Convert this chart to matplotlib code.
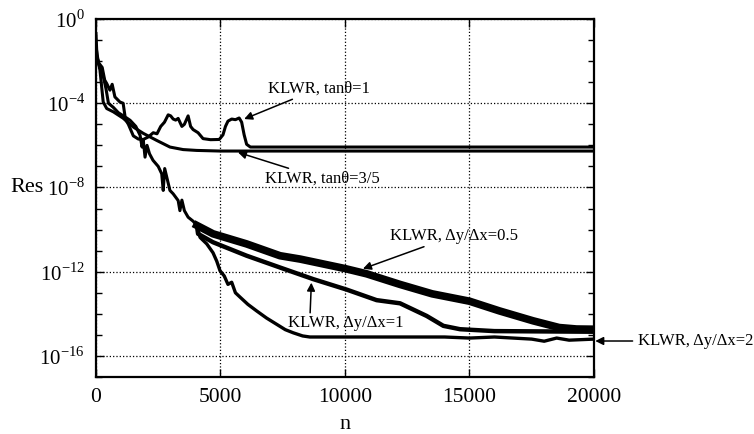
import matplotlib.pyplot as plt
import numpy as np
from matplotlib.ticker import FixedLocator, FuncFormatter, NullFormatter

plt.rcParams['font.family'] = ['Liberation Serif', 'DejaVu Serif']
plt.rcParams['mathtext.fontset'] = 'custom'
plt.rcParams['mathtext.rm'] = 'Liberation Serif'

# curves: n and log10(Res)
n_t1 = [0, 100, 250, 400, 500, 700, 900, 1100, 1300, 1500, 1700, 1900, 2100, 2300, 2450,
        2600, 2750, 2900, 3000, 3100, 3200, 3300, 3450, 3550, 3700, 3800, 3900, 4100, 4300,
        4600, 4950, 5100, 5200, 5300, 5450, 5600, 5750, 5850, 5950, 6050, 6200, 20000]
lg_t1 = [-1.3, -2.1, -2.5, -3.3, -4.0, -4.2, -4.45, -4.6, -5.0, -5.55, -5.7, -5.72, -5.6, -5.4, -5.45,
         -5.1, -4.9, -4.55, -4.6, -4.75, -4.8, -4.72, -5.1, -5.0, -4.6, -5.1, -5.25, -5.4, -5.68,
         -5.73, -5.72, -5.5, -5.1, -4.85, -4.75, -4.78, -4.7, -4.9, -5.5, -5.95, -6.08, -6.08]

n_t35 = [0, 160, 290, 430, 700, 1090, 1500, 1900, 2430, 2970, 3500, 4040, 5000, 20000]
lg_t35 = [-1.6, -2.43, -3.94, -4.25, -4.41, -4.71, -5.13, -5.43, -5.76, -6.08, -6.2, -6.24, -6.27, -6.27]

# early part shared by the three dy/dx runs
n_d0 = [0, 40, 120, 250, 350, 430, 560, 650, 760, 960, 1090, 1170, 1370, 1600, 1770, 1850,
        1900, 1970, 2050, 2150, 2290, 2500, 2640, 2700, 2760, 2970, 3100, 3300, 3370, 3450,
        3550, 3700, 3900, 4050]
lg_d0 = [-0.7, -1.8, -2.1, -2.3, -2.9, -3.06, -3.38, -3.1, -3.7, -3.94, -4.0, -4.65, -4.81, -5.1, -5.52, -6.08,
         -5.76, -6.56, -6.0, -6.4, -6.71, -7.0, -7.35, -8.14, -7.1, -8.14, -8.3, -8.62, -9.1, -8.6,
         -9.1, -9.41, -9.6, -9.8]

n_d2 = [4050, 4180, 4450, 4700, 4850, 4980, 5150, 5300, 5450, 5600, 5780, 6100, 6450, 6850, 7260,
        7600, 7920, 8300, 8590, 10000, 12000, 14000, 15000, 16000, 17500, 18000, 18500, 19000, 20000]
lg_d2 = [-9.8, -10.37, -10.68, -11.1, -11.5, -11.95, -12.2, -12.6, -12.5, -13.0, -13.2, -13.55, -13.86, -14.2, -14.5,
         -14.75, -14.9, -15.05, -15.1, -15.1, -15.1, -15.1, -15.15, -15.1, -15.2, -15.3, -15.15, -15.25, -15.2]

n_d05 = [4050, 4700, 6050, 7390, 8200, 10000, 10870, 12200, 13500, 15000, 16200, 17550, 18600, 19300, 20000]
lg_d05 = [-9.8, -10.2, -10.68, -11.24, -11.4, -11.85, -12.1, -12.6, -13.05, -13.4, -13.86, -14.33, -14.65, -14.72, -14.73]

n_d1 = [4050, 4100, 4700, 6050, 7390, 8720, 10070, 11270, 12210, 13280, 13950, 14620, 16000, 20000]
lg_d1 = [-9.8, -10.2, -10.6, -11.24, -11.8, -12.35, -12.85, -13.35, -13.5, -14.1, -14.57, -14.73, -14.82, -14.85]

fig = plt.figure(figsize=(7.54, 4.34), dpi=100)
ax = fig.add_axes([0.1273, 0.1313, 0.6605, 0.8249])

k = dict(color='black', solid_joinstyle='round')
ax.semilogy(n_t35, 10.0 ** np.array(lg_t35), lw=2.2, **k)
ax.semilogy(n_t1, 10.0 ** np.array(lg_t1), lw=2.2, **k)
ax.semilogy(n_d0, 10.0 ** np.array(lg_d0), lw=2.2, **k)
ax.semilogy(n_d2, 10.0 ** np.array(lg_d2), lw=2.4, **k)
ax.semilogy(n_d1, 10.0 ** np.array(lg_d1), lw=3.2, **k)
ax.semilogy(n_d05, 10.0 ** np.array(lg_d05), lw=5.5, **k)

ax.set_xlim(0, 20000)
ax.set_ylim(1e-17, 1e0)
ax.xaxis.set_major_locator(FixedLocator([0, 5000, 10000, 15000, 20000]))
ax.yaxis.set_major_locator(FixedLocator([1e0, 1e-4, 1e-8, 1e-12, 1e-16]))
ax.yaxis.set_minor_locator(FixedLocator([10.0 ** -e for e in range(0, 18)]))
ax.yaxis.set_major_formatter(FuncFormatter(lambda v, p: r'$10^{%d}$' % round(np.log10(v))))
ax.yaxis.set_minor_formatter(NullFormatter())
ax.tick_params(which='both', direction='in', top=True, right=True, pad=8)
ax.tick_params(axis='x', labelsize=15.5)
ax.tick_params(axis='y', labelsize=15)
ax.tick_params(which='major', length=6, width=1)
ax.tick_params(which='minor', length=4, width=1)
ax.grid(True, which='major', linestyle=':', color='black', lw=0.9)
for s in ax.spines.values():
    s.set_linewidth(1.6)

ax.set_xlabel('n', fontsize=16, labelpad=6)
ax.set_ylabel('Res', fontsize=16, rotation=0, va='center', ha='center')
ax.yaxis.set_label_coords(-0.138, 0.528)

ap = dict(arrowstyle='-|>', color='black', lw=1.1, mutation_scale=12, shrinkA=0, shrinkB=0)
fs = 12
ax.annotate('KLWR, tanθ=1', xy=(5950, 10 ** -4.75), xytext=(6900, 10 ** -3.3),
            fontsize=fs, va='center', ha='left', arrowprops=ap)
ax.annotate('KLWR, tanθ=3/5', xy=(5700, 10 ** -6.33), xytext=(6800, 10 ** -7.6),
            fontsize=fs, va='center', ha='left', arrowprops=ap)
ax.annotate('KLWR, Δy/Δx=0.5', xy=(10720, 10 ** -11.86), xytext=(11800, 10 ** -10.3),
            fontsize=fs, va='center', ha='left', arrowprops=ap)
ax.text(7730, 10 ** -14.43, 'KLWR, Δy/Δx=1', fontsize=fs, va='center', ha='left')
ax.annotate('', xy=(8650, 10 ** -12.52), xytext=(8600, 10 ** -13.95), arrowprops=ap)
ax.text(21750, 10 ** -15.29, 'KLWR, Δy/Δx=2', fontsize=fs, va='center', ha='left', clip_on=False)
ax.annotate('', xy=(20050, 10 ** -15.29), xytext=(21550, 10 ** -15.29), arrowprops=ap,
            annotation_clip=False)

fig.savefig('out.png', dpi=100)
